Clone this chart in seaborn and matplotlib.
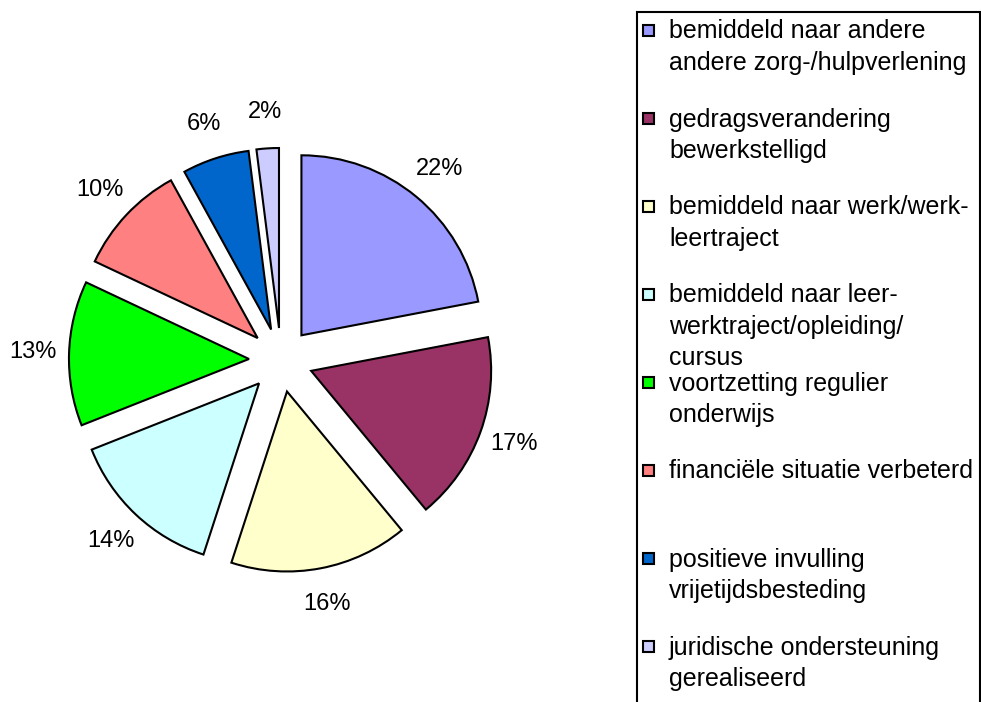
import matplotlib
matplotlib.use("Agg")
import matplotlib.pyplot as plt
from matplotlib.patches import Rectangle
import seaborn as sns

LABELS = [
    "bemiddeld naar andere\nandere zorg-/hulpverlening",
    "gedragsverandering\nbewerkstelligd",
    "bemiddeld naar werk/werk-\nleertraject",
    "bemiddeld naar leer-\nwerktraject/opleiding/\ncursus",
    "voortzetting regulier\nonderwijs",
    "financiële situatie verbeterd",
    "positieve invulling\nvrijetijdsbesteding",
    "juridische ondersteuning\ngerealiseerd",
]
VALUES = [22, 17, 16, 14, 13, 10, 6, 2]
COLORS = ["#9999FF", "#993366", "#FFFFCC", "#CCFFFF",
          "#00FF00", "#FF8080", "#0066CC", "#CCCCFF"]

sns.set_theme(style="white")
plt.rcParams["font.family"] = ["Liberation Sans", "DejaVu Sans"]

W, H = 981, 702
fig = plt.figure(figsize=(W / 100, H / 100), dpi=100)


def fx(px):
    return px / W


def fy(py):
    # py measured from the top of the image
    return 1 - py / H


# pie: centre (281, 360) px, radius 180 px
R = 180
lim = 1.5
half = R * lim
cx, cy = 281, 360
ax = fig.add_axes([fx(cx - half), fy(cy + half), 2 * half / W, 2 * half / H])

wedges, texts, autotexts = ax.pie(
    VALUES,
    colors=COLORS,
    startangle=90,
    counterclock=False,
    explode=[0.178] * len(VALUES),
    autopct="%1.0f%%",
    pctdistance=1.2,
    wedgeprops=dict(edgecolor="black", linewidth=1.5),
    textprops=dict(fontsize=17, color="black"),
)
ax.set_xlim(-lim, lim)
ax.set_ylim(-lim, lim)
ax.set_aspect("equal")
ax.axis("off")

# legend box (bottom runs off the image like the original)
frame = Rectangle((fx(637), fy(720)), fx(980) - fx(637), fy(12) - fy(720),
                  transform=fig.transFigure, fill=False,
                  edgecolor="black", linewidth=1.5, clip_on=False)
fig.add_artist(frame)

for i, (lab, col) in enumerate(zip(LABELS, COLORS)):
    yc = 30.5 + 88 * i
    sq = Rectangle((fx(643), fy(yc + 5.5)), fx(11), 11 / H,
                   transform=fig.transFigure, facecolor=col,
                   edgecolor="black", linewidth=1.5)
    fig.add_artist(sq)
    fig.text(fx(669), fy(yc - 11), lab, fontsize=18, va="top",
             ha="left", linespacing=1.38, color="black")

fig.savefig("out.png", dpi=100)
